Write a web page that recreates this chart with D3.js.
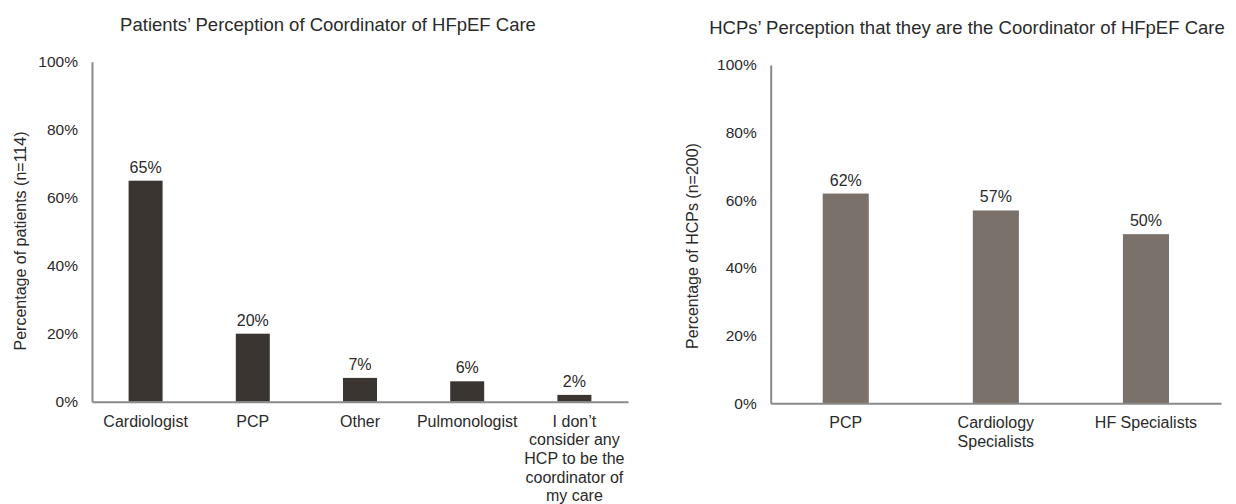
<!DOCTYPE html>
<html><head><meta charset="utf-8">
<script src="https://cdn.jsdelivr.net/npm/d3@7"></script>
<style>
body{margin:0;background:#fff}
svg{display:block}
text{font-family:"Liberation Sans",Arial,Helvetica,sans-serif;fill:#2a2a2a}
</style>
</head><body>
<svg id="chart" width="1236" height="504"></svg>
<script>
// ---- data ----
const patientTitle = "Patients\u2019 Perception of Coordinator of HFpEF Care";
const patientYTitle = "Percentage of patients (n=114)";
const patientCategories = ["Cardiologist","PCP","Other","Pulmonologist","I don\u2019t\nconsider any\nHCP to be the\ncoordinator of\nmy care"];
const patientValues = [65,20,7,6,2];

const hcpTitle = "HCPs\u2019 Perception that they are the Coordinator of HFpEF Care";
const hcpYTitle = "Percentage of HCPs (n=200)";
const hcpCategories = ["PCP","Cardiology\nSpecialists","HF Specialists"];
const hcpValues = [62,57,50];

const yTickValues = [0,20,40,60,80,100];
const yTickLabels = ["0%","20%","40%","60%","80%","100%"];

// ---- drawing ----
const svg = d3.select("#chart");

function drawPanel(o){
  const x = d3.scaleBand().domain(o.categories).range([o.x0,o.x1])
    .paddingInner(o.pad).paddingOuter(o.pad/2);
  const y = d3.scaleLinear().domain([0,100]).range([o.y0,o.y1]);
  const g = svg.append("g");

  // bars
  g.selectAll("rect.bar").data(o.values).enter().append("rect")
    .attr("class","bar")
    .attr("x",(d,i)=>x(o.categories[i]))
    .attr("width",x.bandwidth())
    .attr("y",d=>y(d))
    .attr("height",d=>y(0)-y(d))
    .attr("fill",o.color);

  // value labels
  g.selectAll("text.val").data(o.values).enter().append("text")
    .attr("class","val")
    .attr("x",(d,i)=>x(o.categories[i])+x.bandwidth()/2)
    .attr("y",d=>y(d)-8)
    .attr("text-anchor","middle")
    .style("font-size","16px")
    .text(d=>d+"%");

  // y axis
  const ya = g.append("g").attr("transform",`translate(${o.x0},0)`)
    .call(d3.axisLeft(y).tickValues(yTickValues).tickFormat((d,i)=>yTickLabels[i]).tickSize(0).tickSizeOuter(0).tickPadding(14));
  ya.select(".domain").attr("stroke","#8a8a8a").attr("stroke-width",2);
  ya.selectAll("text").style("font-size","15.5px").attr("fill","#2a2a2a");

  // x axis
  const xa = g.append("g").attr("transform",`translate(0,${o.y0})`)
    .call(d3.axisBottom(x).tickSize(0).tickSizeOuter(0).tickFormat(""));
  xa.select(".domain").attr("stroke","#8a8a8a").attr("stroke-width",2);
  xa.selectAll(".tick").each(function(d){
    const t = d3.select(this).append("text")
      .attr("text-anchor","middle").attr("y",25)
      .style("font-size","16px").attr("fill","#2a2a2a");
    d.split("\n").forEach((line,i)=>{
      t.append("tspan").attr("x",0).attr("dy",i===0?0:18.7).text(line);
    });
  });

  // title
  g.append("text").attr("x",o.titleX).attr("y",o.titleY)
    .attr("text-anchor","middle").style("font-size","18.5px").text(o.title);

  // y axis title
  g.append("text")
    .attr("transform",`translate(${o.yTitleX},${o.yTitleY}) rotate(-90)`)
    .attr("text-anchor","middle").attr("dy","0.35em")
    .style("font-size","16px").text(o.yTitle);
}

drawPanel({categories:patientCategories, values:patientValues, color:"#3a3531",
  x0:92, x1:628, y0:401.7, y1:61.7, pad:0.683,
  title:patientTitle, titleX:328, titleY:31,
  yTitle:patientYTitle, yTitleX:20, yTitleY:241});

drawPanel({categories:hcpCategories, values:hcpValues, color:"#7a716a",
  x0:770.7, x1:1221, y0:403.3, y1:65, pad:0.693,
  title:hcpTitle, titleX:967, titleY:34,
  yTitle:hcpYTitle, yTitleX:692, yTitleY:246});
</script>
</body></html>
